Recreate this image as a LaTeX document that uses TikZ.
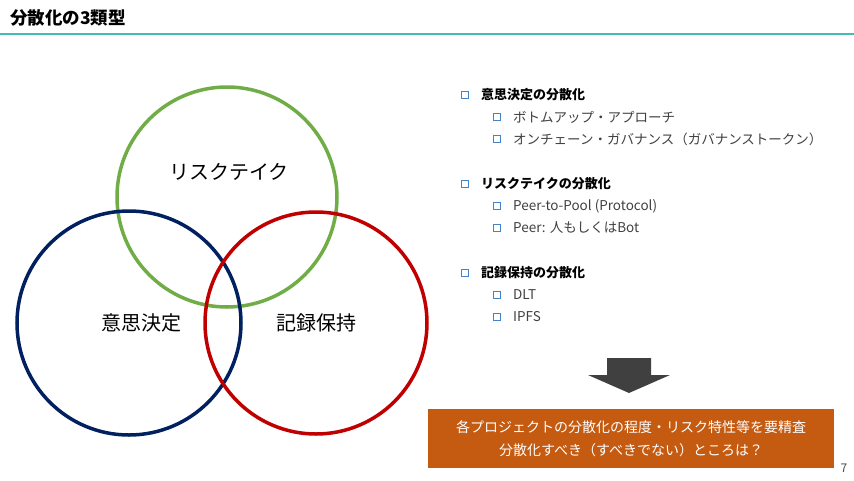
\documentclass[tikz,border=0pt]{standalone}
\usepackage{fontspec}
\setmainfont{Noto Sans CJK JP}
\begin{document}
\begin{tikzpicture}[x=1pt,y=-1pt,
  txt/.style={anchor=west,inner sep=0pt,font=\fontsize{13.5}{15}\selectfont,text=black!75},
  hd/.style={anchor=west,inner sep=0pt,font=\fontsize{13}{15}\selectfont\bfseries,text=black},
  bul/.style={draw={rgb,255:red,70;green,130;blue,200},line width=1.5pt,minimum size=7pt,inner sep=0pt}]
\useasboundingbox (0,0) rectangle (854,480);
\node[anchor=west,inner sep=0pt,font=\fontsize{17.5}{20}\selectfont\bfseries] (title) at (10,18) {分散化の3類型};
\draw[line width=2pt,color={rgb,255:red,64;green,190;blue,180}] (0,34) -- (854,34);
\draw[line width=3.5pt,color={rgb,255:red,112;green,173;blue,71}] (227,197) circle (110);
\draw[line width=3.5pt,color={rgb,255:red,0;green,32;blue,96}] (129,323) circle (112);
\draw[line width=3.5pt,color={rgb,255:red,192;green,0;blue,0}] (316,323) circle (111);
\node[font=\fontsize{20}{24}\selectfont] (r) at (229,172) {リスクテイク};
\node[font=\fontsize{20}{24}\selectfont] (d) at (141,323) {意思決定};
\node[font=\fontsize{20}{24}\selectfont] (k) at (316,323) {記録保持};
\foreach \y/\t in {95/意思決定の分散化,184/リスクテイクの分散化,273/記録保持の分散化}{
  \node[bul] at (465,\y) {};
  \node[hd] at (481,\y) {\t};}
\foreach \y/\t in {117/ボトムアップ・アプローチ,139/オンチェーン・ガバナンス（ガバナンストークン）,206/Peer-to-Pool (Protocol),228/Peer: 人もしくはBot,295/DLT,317/IPFS}{
  \node[bul] at (497,\y) {};
  \node[txt] at (513,\y) {\t};}
\fill[color={rgb,255:red,64;green,64;blue,64}] (607,358) -- (651,358) -- (651,375) -- (670,375) -- (629,393) -- (588,375) -- (607,375) -- cycle;
\node[fill={rgb,255:red,197;green,90;blue,17},minimum width=406pt,minimum height=59pt,anchor=north west,inner sep=0pt] (box) at (428,409) {};
\node[text=white,font=\fontsize{14}{23}\selectfont,align=center] at (box.center) {各プロジェクトの分散化の程度・リスク特性等を要精査\\分散化すべき（すべきでない）ところは？};
\node[font=\fontsize{12}{13}\selectfont,text=black!70] (pg) at (844,468) {7};
\end{tikzpicture}
\end{document}
